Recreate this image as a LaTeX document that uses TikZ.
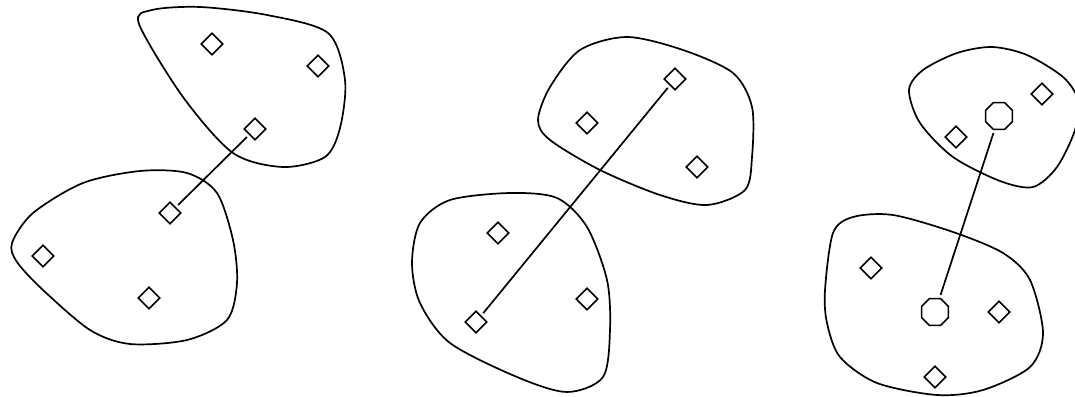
\documentclass[tikz,border=0pt]{standalone}
\usepackage{tikz}
\usetikzlibrary{shapes.geometric}
\tikzset{item/.style={diamond,draw,line width=1.6pt,inner sep=0pt,minimum width=22pt,minimum height=22pt},
hub/.style={regular polygon,regular polygon sides=8,draw,line width=1.6pt,inner sep=0pt,minimum size=29pt},
cluster/.style={line width=1.7pt},
link/.style={line width=1.7pt,shorten <=3pt,shorten >=3pt}}

\begin{document}
\begin{tikzpicture}[x=1pt,y=-1pt]
    \useasboundingbox (0,0) rectangle (1075,396);
    \clip (0,0) rectangle (1075,396);

    % Left pair
    \draw[cluster] plot[smooth cycle] coordinates {(139,24) (152,10) (200,7) (267,15) (328,33) (345,80) (340,128) (325,157) (283,167) (233,153) (183,97)};
    \draw[cluster] plot[smooth cycle] coordinates {(12,243) (33,213) (83,183) (140,171) (187,173) (217,193) (233,240) (237,283) (227,320) (187,340) (130,344) (90,330) (43,290) (17,262)};
    \node[item] (lu1) at (212,44) {};
    \node[item] (lu2) at (318,66) {};
    \node[item] (lu3) at (255,129) {};
    \node[item] (ld1) at (170,213) {};
    \node[item] (ld2) at (43,256) {};
    \node[item] (ld3) at (149,298) {};
    \draw[link] (lu3) -- (ld1);

    % Middle pair
    \draw[cluster] plot[smooth cycle] coordinates {(538,120) (550,87) (580,50) (627,37) (683,50) (733,73) (752,107) (752,157) (745,190) (707,205) (660,195) (600,170) (550,140)};
    \draw[cluster] plot[smooth cycle] coordinates {(412,263) (420,223) (450,200) (510,193) (557,198) (587,227) (607,280) (610,330) (603,377) (567,392) (517,377) (450,343) (420,303)};
    \node[item] (mu1) at (675,79) {};
    \node[item] (mu2) at (587,123) {};
    \node[item] (mu3) at (697,167) {};
    \node[item] (md1) at (498,233) {};
    \node[item] (md2) at (587,299) {};
    \node[item] (md3) at (476,322) {};
    \draw[link] (mu1) -- (md3);

    % Right pair
    \draw[cluster] plot[smooth cycle] coordinates {(909,90) (923,70) (957,53) (992,47) (1027,55) (1063,77) (1078,100) (1075,130) (1057,167) (1033,187) (1000,181) (953,157) (920,123)};
    \draw[cluster] plot[smooth cycle] coordinates {(825,290) (833,233) (853,217) (893,215) (953,232) (1003,253) (1030,280) (1043,333) (1030,367) (983,390) (937,395) (877,383) (840,357) (827,323)};
    \node[hub] (ru1) at (999,116) {};
    \node[item] (ru2) at (1042,94) {};
    \node[item] (ru3) at (956,137) {};
    \node[item] (rd1) at (871,268) {};
    \node[hub] (rd2) at (935,312) {};
    \node[item] (rd3) at (999,312) {};
    \node[item] (rd4) at (935,377) {};
    \draw[link] (ru1) -- (rd2);
\end{tikzpicture}
\end{document}
